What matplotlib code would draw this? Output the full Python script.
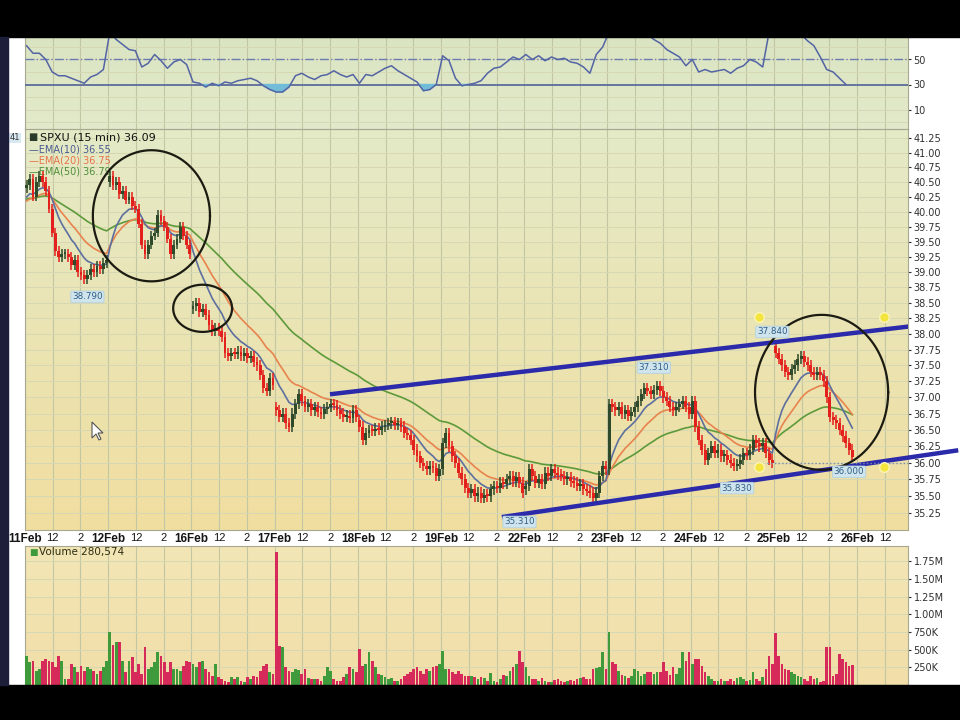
import matplotlib.pyplot as plt
import numpy as np
from matplotlib.colors import LinearSegmentedColormap
from matplotlib.patches import Rectangle, Polygon
from matplotlib.ticker import FixedLocator, FuncFormatter, NullLocator
from matplotlib.transforms import IdentityTransform

W, H = 960, 720
BARS_PER_DAY = 26

day_names = ["11Feb", "12Feb", "16Feb", "17Feb", "18Feb", "19Feb",
             "22Feb", "23Feb", "24Feb", "25Feb", "26Feb"]

# 15 min closes, one list per session
close_11 = [40.45, 40.55, 40.25, 40.50, 40.60, 40.50, 40.35, 40.05, 39.65, 39.35, 39.25, 39.30, 39.30,
            39.25, 39.12, 39.20, 39.00, 38.95, 38.88, 38.95, 39.05, 39.00, 39.10, 39.05, 39.15, 39.20]
close_12 = [40.60, 40.45, 40.50, 40.30, 40.35, 40.20, 40.25, 40.10, 40.05, 39.80, 39.45, 39.30, 39.45,
            39.60, 39.65, 39.95, 39.85, 39.75, 39.55, 39.30, 39.45, 39.55, 39.75, 39.60, 39.45, 39.30]
close_16 = [38.45, 38.50, 38.35, 38.40, 38.30, 38.15, 38.05, 38.10, 38.05, 37.95, 37.70, 37.65, 37.70,
            37.68, 37.72, 37.65, 37.70, 37.62, 37.65, 37.55, 37.50, 37.35, 37.15, 37.10, 37.30, 37.20]
close_17 = [36.80, 36.70, 36.75, 36.60, 36.55, 36.75, 36.90, 37.05, 36.95, 36.85, 36.90, 36.80, 36.85,
            36.78, 36.75, 36.82, 36.85, 36.90, 36.88, 36.80, 36.75, 36.70, 36.72, 36.68, 36.80, 36.70]
close_18 = [36.55, 36.35, 36.45, 36.50, 36.48, 36.52, 36.50, 36.55, 36.58, 36.60, 36.62, 36.58, 36.60,
            36.55, 36.45, 36.42, 36.35, 36.20, 36.10, 36.00, 35.95, 35.90, 35.95, 35.92, 35.80, 35.90]
close_19 = [36.30, 36.45, 36.25, 36.10, 36.00, 35.85, 35.75, 35.62, 35.55, 35.60, 35.50, 35.55, 35.48,
            35.52, 35.50, 35.60, 35.65, 35.62, 35.70, 35.68, 35.75, 35.80, 35.72, 35.78, 35.70, 35.55]
close_22 = [35.65, 35.90, 35.80, 35.70, 35.75, 35.68, 35.85, 35.80, 35.90, 35.85, 35.82, 35.80, 35.75,
            35.78, 35.72, 35.70, 35.65, 35.68, 35.60, 35.58, 35.55, 35.48, 35.55, 35.80, 35.95, 35.90]
close_23 = [36.90, 36.85, 36.80, 36.85, 36.75, 36.80, 36.72, 36.78, 36.85, 36.95, 37.05, 37.15, 37.10,
            37.05, 37.12, 37.18, 37.10, 37.00, 36.95, 36.85, 36.80, 36.85, 36.90, 36.95, 36.85, 36.75]
close_24 = [36.95, 36.55, 36.35, 36.20, 36.05, 36.15, 36.25, 36.15, 36.20, 36.10, 36.12, 36.05, 36.00,
            35.95, 35.98, 36.05, 36.15, 36.12, 36.20, 36.35, 36.30, 36.25, 36.30, 36.15, 36.05, 36.00]
close_25 = [37.70, 37.60, 37.50, 37.40, 37.35, 37.45, 37.50, 37.60, 37.65, 37.55, 37.50, 37.40, 37.35,
            37.40, 37.35, 37.25, 37.00, 36.70, 36.65, 36.60, 36.50, 36.40, 36.30, 36.20, 36.09]

# first trade of every session
day_open = [40.40, 40.50, 38.40, 36.85, 36.65, 35.90, 35.60, 35.90, 36.75, 37.80]

# volume per bar, thousands of shares
vol_11 = [416, 320, 345, 200, 227, 345, 370, 345, 322, 251, 416, 345, 85, 85, 298, 251, 180, 274,
          203, 251, 227, 203, 156, 203, 250, 345]
vol_12 = [747, 560, 605, 605, 345, 180, 345, 390, 180, 298, 156, 535, 227, 251, 322, 463, 416, 322,
          180, 322, 227, 227, 203, 274, 345, 322]
vol_16 = [298, 251, 322, 345, 227, 180, 132, 298, 109, 85, 61, 47, 109, 85, 109, 61, 47, 109,
          85, 123, 109, 203, 274, 298, 180, 150]
vol_17 = [1873, 558, 535, 251, 203, 180, 227, 217, 156, 227, 94, 85, 85, 85, 61, 132, 251, 203,
          85, 61, 61, 109, 156, 251, 230, 180]
vol_18 = [511, 274, 298, 463, 345, 251, 156, 142, 109, 85, 94, 61, 61, 85, 132, 156, 180, 227,
          251, 203, 156, 227, 203, 251, 274, 300]
vol_19 = [487, 227, 227, 180, 156, 203, 156, 132, 132, 123, 109, 85, 109, 94, 61, 165, 61, 47,
          85, 142, 132, 203, 251, 300, 487, 322]
vol_22 = [251, 132, 85, 85, 61, 94, 61, 47, 38, 71, 85, 61, 47, 61, 76, 61, 85, 94,
          109, 85, 85, 227, 236, 251, 463, 227]
vol_23 = [747, 322, 298, 203, 142, 132, 94, 132, 227, 203, 132, 156, 180, 189, 156, 180, 180, 322,
          203, 142, 251, 156, 236, 463, 345, 463]
vol_24 = [298, 369, 369, 274, 180, 132, 85, 61, 61, 85, 61, 61, 85, 61, 94, 109, 85, 61,
          71, 189, 85, 61, 109, 227, 416, 300]
vol_25 = [738, 416, 298, 227, 217, 189, 156, 132, 109, 85, 61, 132, 85, 94, 47, 61, 535, 535,
          132, 156, 440, 369, 322, 274, 281]

# RSI, read every second bar
rsi_vals = [61, 55, 55, 50, 40, 37, 37, 35, 33, 31, 36, 38, 42, 72, 66, 62, 58, 57, 44, 47,
            54, 49, 43, 48, 50, 46, 32, 31, 28, 31, 29, 32, 31, 33, 34, 35, 33, 29, 26, 24,
            24, 28, 37, 39, 36, 34, 37, 38, 41, 38, 36, 38, 31, 38, 37, 40, 43, 45, 41, 38,
            35, 32, 25, 26, 30, 53, 49, 35, 29, 30, 31, 33, 39, 43, 44, 48, 52, 50, 54, 50,
            53, 49, 52, 50, 51, 48, 47, 44, 39, 54, 60, 72, 78, 78, 76, 77, 74, 70, 66, 63,
            58, 55, 52, 45, 50, 40, 42, 40, 41, 42, 39, 43, 45, 50, 48, 44, 72, 78, 76, 77,
            74, 70, 65, 61, 52, 42, 40, 35, 30]

ema_start = {10: 40.20, 20: 40.15, 50: 40.20}
ema_legend = ["EMA(10) 36.55", "EMA(20) 36.75", "EMA(50) 36.79"]

# price flags (text, bar, price, pixel offset)
flags = [("38.790", 19, 38.79, -12), ("37.310", 196, 37.31, 10), ("35.310", 154, 35.31, -13),
         ("35.830", 222, 35.83, -14), ("37.840", 233, 37.84, 12), ("36.000", 257, 36.00, -9)]

closes = np.array(close_11 + close_12 + close_16 + close_17 + close_18 +
                  close_19 + close_22 + close_23 + close_24 + close_25)
volume = np.array(vol_11 + vol_12 + vol_16 + vol_17 + vol_18 +
                  vol_19 + vol_22 + vol_23 + vol_24 + vol_25) * 1000.0
rsi = np.array(rsi_vals, dtype=float)

n = len(closes)
x = np.arange(n)
opens = np.r_[closes[0], closes[:-1]]
opens[::BARS_PER_DAY] = day_open
up = closes >= opens

XMIN, XMAX = -0.5, 275.4


def ema(values, span, start):
    a = 2.0 / (span + 1)
    out = np.empty(len(values))
    prev = start
    for k, v in enumerate(values):
        prev = prev + a * (v - prev)
        out[k] = prev
    return out


def rect(x0, y0, x1, y1):
    # pixel box (origin top-left) -> figure fraction
    return [x0 / W, 1 - y1 / H, (x1 - x0) / W, (y1 - y0) / H]


def panel(box, top, bottom):
    bg = fig.add_axes(box, zorder=1)
    cmap = LinearSegmentedColormap.from_list("bg", [top, bottom])
    bg.imshow(np.linspace(0, 1, 256).reshape(-1, 1), cmap=cmap, aspect="auto", extent=[0, 1, 0, 1])
    bg.axis("off")
    ax = fig.add_axes(box, zorder=2)
    ax.set_facecolor("none")
    for s in ax.spines.values():
        s.set_color("#a8a890")
        s.set_linewidth(0.8)
    return ax


fig = plt.figure(figsize=(W / 100, H / 100), dpi=100, facecolor="white")

ax_r = panel(rect(25, 37, 908, 129), "#dae4c2", "#e3eacb")
ax_p = panel(rect(25, 129, 908, 530), "#e4eac7", "#f1dea0")
ax_v = panel(rect(25, 546, 908, 685), "#f3e6b6", "#f1dea8")

# x ticks: session start, "12" and "2"
tick_pos, tick_lab = [], []
for d, name in enumerate(day_names):
    s = d * BARS_PER_DAY - 0.5
    for off, lab in ((0, name), (BARS_PER_DAY / 3, "12"), (2 * BARS_PER_DAY / 3, "2")):
        if s + off <= XMAX:
            tick_pos.append(s + off)
            tick_lab.append(lab)

GRID_V = "#c3c6a2"
GRID_H = "#d6d8b4"
for ax in (ax_r, ax_p, ax_v):
    ax.set_xlim(XMIN, XMAX)
    ax.set_xticks(tick_pos)
    ax.grid(axis="x", color=GRID_V, lw=0.8)
    ax.grid(axis="y", color=GRID_H, lw=0.7)
    ax.set_axisbelow(True)
    ax.yaxis.tick_right()
    ax.tick_params(axis="y", labelsize=7, length=2, pad=2, colors="#303030")
    ax.tick_params(axis="x", length=0)

ax_r.tick_params(labelbottom=False)
ax_v.tick_params(labelbottom=False)

# --- RSI panel
rx = np.arange(len(rsi)) * 2
ax_r.set_ylim(-5.6, 68)
ax_r.set_yticks([10, 30, 50])
ax_r.yaxis.set_minor_locator(FixedLocator([0, 20, 40, 60]))
ax_r.grid(axis="y", which="minor", color=GRID_H, lw=0.7)
ax_r.tick_params(axis="y", which="minor", length=0)
ax_r.axhline(30, color="#5d6b9a", lw=1.3, zorder=3)
ax_r.axhline(50, color="#6c7bb0", lw=1.0, ls="-.", zorder=3)
ax_r.fill_between(rx, rsi, 30, where=rsi < 30, interpolate=True, color="#72bcd8", zorder=3)
ax_r.plot(rx, rsi, color="#5364a4", lw=1.1, zorder=4)

# --- price panel
ax_p.set_yscale("log")
ax_p.set_ylim(35.0, 41.41)
ax_p.yaxis.set_major_locator(FixedLocator(np.arange(35.25, 41.26, 0.25)))
ax_p.yaxis.set_minor_locator(NullLocator())
ax_p.yaxis.set_major_formatter(FuncFormatter(lambda v, p: f"{v:.2f}"))
ax_p.set_xticklabels(tick_lab)
for t in ax_p.get_xticklabels():
    t.set_family("Liberation Sans")
    if t.get_text() in day_names:
        t.set_fontweight("bold")
        t.set_fontsize(8.5)
    else:
        t.set_fontsize(8)
    t.set_color("#151515")
ax_p.tick_params(axis="x", pad=2.5)

for span, col in ((50, "#5d9a3a"), (20, "#e8834e"), (10, "#5d6f9e")):
    ax_p.plot(x, ema(closes, span, ema_start[span]), color=col, lw=1.2, zorder=4)

UP, DOWN = "#2e4a2a", "#e4201c"
WICK = 0.08
cc = np.where(up, UP, DOWN)
lo = np.minimum(opens, closes)
hi = np.maximum(opens, closes)
ax_p.vlines(x, lo - WICK, hi + WICK, colors=cc, lw=1.1, zorder=5)
ax_p.bar(x, np.maximum(hi - lo, 0.03), bottom=lo, width=0.9, color=cc, zorder=5)

# trend channel
ax_p.plot([94.8, 276.0], [37.05, 38.12], color="#2a2aaa", lw=3.2, solid_capstyle="butt", zorder=6)
ax_p.plot([148.5, 291.1], [35.19, 36.19], color="#2a2aaa", lw=3.2, solid_capstyle="butt",
          zorder=6, clip_on=False)
ax_p.hlines(36.0, 231.4, XMAX, colors="#7c8aa6", lw=1.0, linestyles=":", zorder=6)
ax_p.scatter([229, 268, 229, 268], [38.27, 38.27, 35.93, 35.93], s=48, color="#f3e43e",
             edgecolor="#fbf4b8", lw=1.0, zorder=7)

# hand drawn rings (centre bar, centre price, half width in bars, half height in log units)
rings = [(39.0, 39.93, 18.3, 0.0275), (55.0, 38.41, 9.2, 0.0099), (248.4, 37.08, 20.8, 0.0325)]
t = np.linspace(0, 2 * np.pi, 240)
for cx, cy, hw, hh in rings:
    ax_p.plot(cx + hw * np.cos(t), cy * np.exp(hh * np.sin(t)), color="#1b1b12", lw=1.6, zorder=7)

for txt, bx, price, off in flags:
    ax_p.annotate(txt, (bx, price), xytext=(0, off), textcoords="offset pixels",
                  ha="center", va="center", fontsize=6.3, color="#2f5d86", zorder=8,
                  bbox=dict(boxstyle="round,pad=0.15", fc="#cfe4ec", ec="#b4d2de", lw=0.6))

# legend block
ax_p.annotate("\u25a0", (0, 1), xycoords="axes fraction", xytext=(8, -8),
              textcoords="offset pixels", fontsize=7, color="#2b3b2b", va="center", ha="center")
ax_p.annotate("SPXU (15 min) 36.09", (0, 1), xycoords="axes fraction", xytext=(15, -8),
              textcoords="offset pixels", fontsize=8, color="#111111", va="center")
for k, (lab, col) in enumerate(zip(ema_legend, ("#4a5b92", "#e8734a", "#4f8f3a"))):
    ax_p.annotate("\u2014" + lab, (0, 1), xycoords="axes fraction", xytext=(4, -20 - 11.5 * k),
                  textcoords="offset pixels", fontsize=7, color=col, va="center")

# --- volume panel
ax_v.set_ylim(0, 1.964e6)
ax_v.yaxis.set_major_locator(FixedLocator(np.arange(250e3, 1.76e6, 250e3)))
ax_v.yaxis.set_major_formatter(FuncFormatter(
    lambda v, p: f"{v / 1e6:.2f}M" if v >= 1e6 else f"{v / 1e3:.0f}K"))
ax_v.bar(x, volume, width=0.85, color=np.where(up, "#3f9a3c", "#d52a5a"), zorder=3)
ax_v.annotate("\u25a0", (0, 1), xycoords="axes fraction", xytext=(8, -6),
              textcoords="offset pixels", fontsize=6.5, color="#3f9a3c", va="center", ha="center")
ax_v.annotate("Volume 280,574", (0, 1), xycoords="axes fraction", xytext=(14, -6),
              textcoords="offset pixels", fontsize=7.5, color="#2e2e10", va="center")

# screen furniture: video bars, left frame, mouse pointer
fig.add_artist(Rectangle((0, 1 - 37 / H), 1, 37 / H, transform=fig.transFigure,
                         color="black", zorder=20))
fig.add_artist(Rectangle((0, 0), 1, 35 / H, transform=fig.transFigure, color="black", zorder=20))
fig.add_artist(Rectangle((0, 35 / H), 8 / W, 1 - 72 / H, transform=fig.transFigure,
                         color="#1c1e3a", zorder=20))
fig.text(15 / W, 1 - 138 / H, "41", fontsize=6, color="#333333", ha="center", va="center",
         bbox=dict(boxstyle="square,pad=0.1", fc="#d8e8f0", ec="none"))
cursor = [(0, 0), (0, 16), (4, 12), (7, 18), (9, 17), (6, 11), (11, 11)]
fig.add_artist(Polygon([(92 + dx, H - (422 + dy)) for dx, dy in cursor], closed=True,
                       transform=IdentityTransform(), fc="white", ec="#555555", lw=0.8, zorder=21))

fig.savefig("out.png", dpi=100, facecolor="white")
